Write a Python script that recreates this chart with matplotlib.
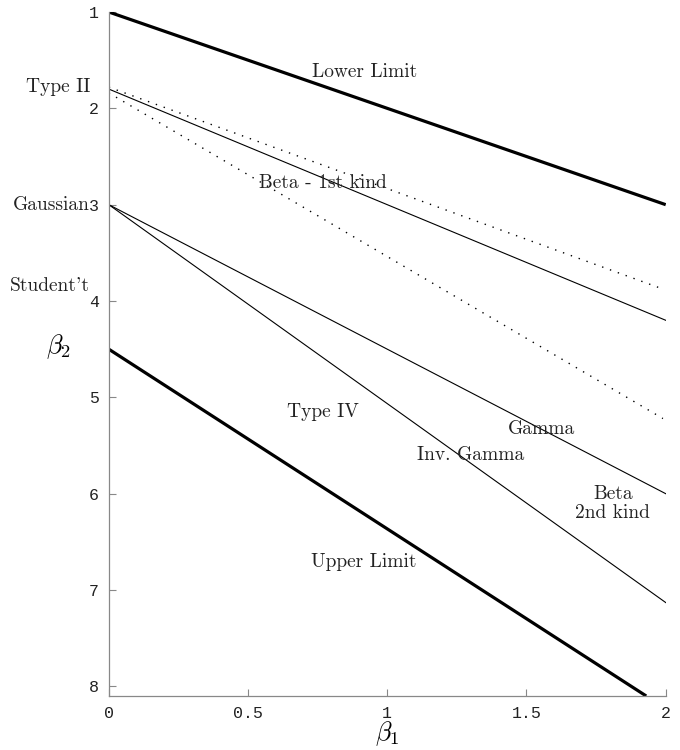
import matplotlib
matplotlib.use('Agg')
import matplotlib.pyplot as plt
import numpy as np

plt.rcParams['mathtext.fontset'] = 'cm'
plt.rcParams['axes.unicode_minus'] = False

# end points of the boundary lines (beta1, beta2)
b1_ends = [0, 2]
lower_limit = [1.0, 3.0]
upper_limit_b1 = [0, 1.93]
upper_limit = [4.5, 8.1]
beta_1st = [1.8, 4.2]
gamma_line = [3.0, 6.0]
inv_gamma_line = [3.0, 7.13]
dotted_upper_b1 = [0, 1.975]
dotted_upper = [1.78, 3.86]
dotted_lower_b1 = [0, 1.99]
dotted_lower = [1.84, 5.22]

# region labels (text, beta1, beta2)
labels = [('Lower Limit', 0.92, 1.62),
          ('Beta - 1st kind', 0.77, 2.78),
          ('Type IV', 0.77, 5.15),
          ('Gamma', 1.555, 5.33),
          ('Inv. Gamma', 1.30, 5.60),
          ('Beta\n2nd kind', 1.81, 6.10),
          ('Upper Limit', 0.915, 6.71)]
side_labels = [('Type II', 1.78), ('Gaussian', 3.0), ("Student't", 3.84)]

xticks = [0, 0.5, 1, 1.5, 2]
xticklabels = ['0', '0.5', '1', '1.5', '2']
yticks = [1, 2, 3, 4, 5, 6, 7, 8]

fig = plt.figure(figsize=(6.8, 7.5), dpi=100)
ax = fig.add_axes([0.160, 0.072, 0.819, 0.912])

ax.plot(b1_ends, lower_limit, color='k', lw=2.3, solid_capstyle='butt')
ax.plot(upper_limit_b1, upper_limit, color='k', lw=2.3, solid_capstyle='butt')
ax.plot(b1_ends, beta_1st, color='k', lw=0.8)
ax.plot(b1_ends, gamma_line, color='k', lw=0.8)
ax.plot(b1_ends, inv_gamma_line, color='k', lw=0.8)
ax.plot(dotted_upper_b1, dotted_upper, color='k', lw=1.0, linestyle=(0, (1, 5)))
ax.plot(dotted_lower_b1, dotted_lower, color='k', lw=1.0, linestyle=(0, (1, 5)))

ax.set_xlim(0, 2)
ax.set_ylim(8.1, 1)

for txt, x, y in labels:
    ax.text(x, y, txt, family='cmr10', fontsize=14, ha='center', va='center',
            color='#222222', linespacing=1.05)
for txt, y in side_labels:
    ax.text(-0.067, y, txt, family='cmr10', fontsize=14, ha='right', va='center',
            color='#222222', clip_on=False)

for s in ['top', 'right']:
    ax.spines[s].set_visible(False)
for s in ['left', 'bottom']:
    ax.spines[s].set_color('#888888')
    ax.spines[s].set_linewidth(0.9)

ax.set_xticks(xticks)
ax.set_xticklabels(xticklabels)
ax.set_yticks(yticks)
ax.tick_params(direction='in', length=5, color='#888888', width=0.8,
               labelsize=12, labelcolor='#222222', pad=7)
for lab in ax.get_xticklabels() + ax.get_yticklabels():
    lab.set_family('Liberation Mono')

ax.set_xlabel(r'$\beta_1$', fontsize=19, labelpad=-1)
ax.set_ylabel(r'$\beta_2$', fontsize=19, rotation=0, va='center')
ax.yaxis.set_label_coords(-0.09, (8.1 - 4.47) / 7.1)

fig.savefig('out.png', dpi=100, facecolor='white')
